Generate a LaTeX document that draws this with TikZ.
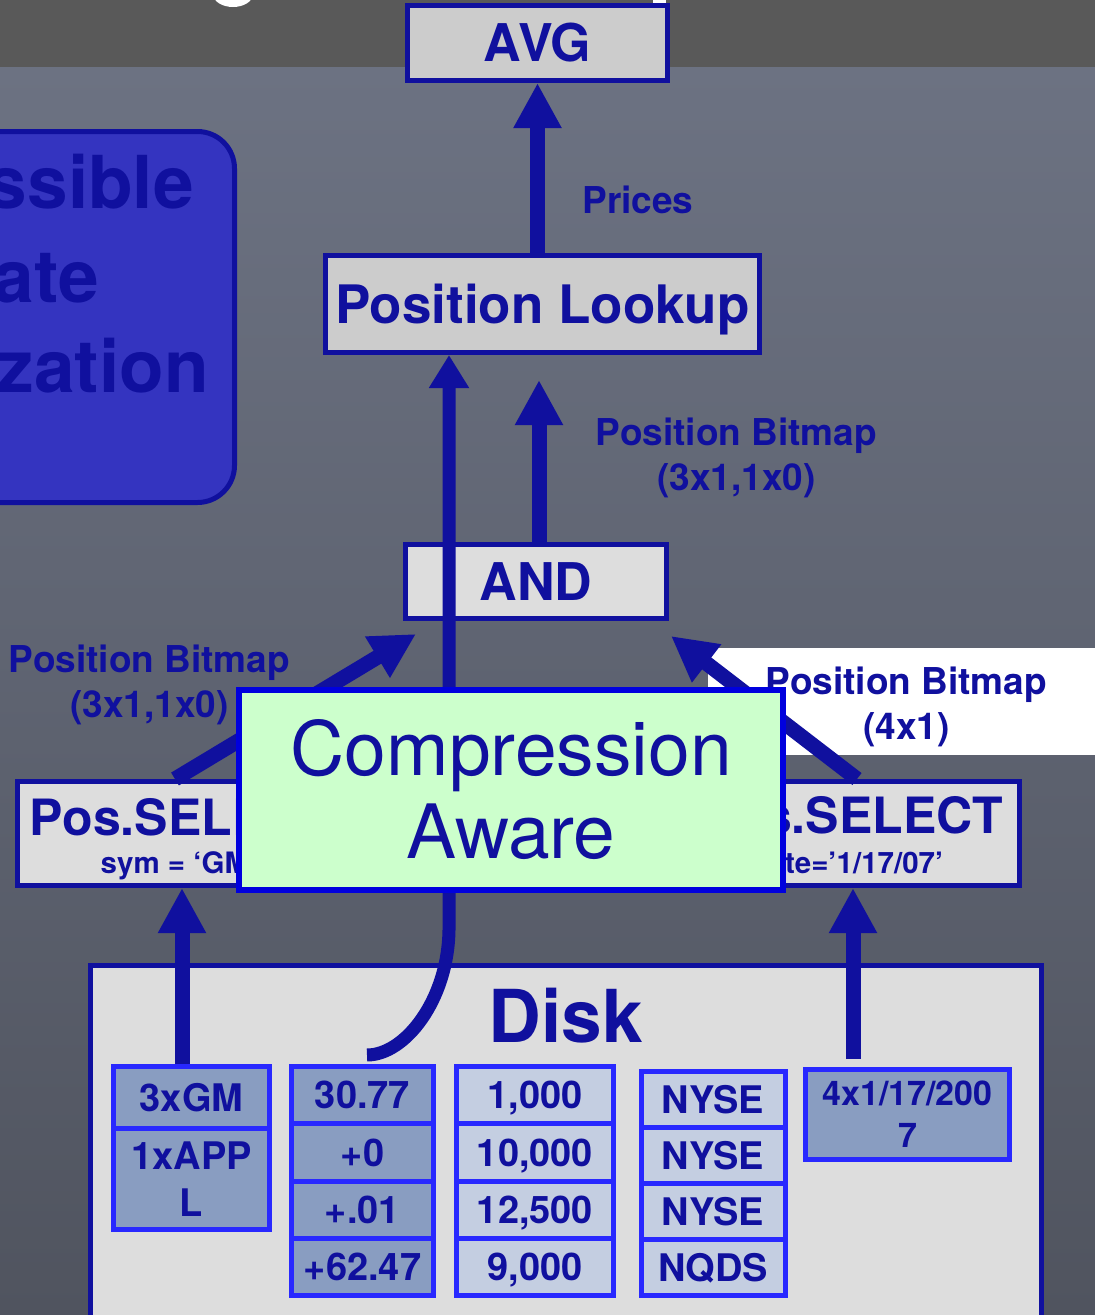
\documentclass[tikz,border=0pt]{standalone}
\usepackage{fontspec}
\setmainfont{TeX Gyre Heros}
\usetikzlibrary{arrows.meta,calc}

\definecolor{navy}{RGB}{16,16,158}
\definecolor{brightblue}{RGB}{40,40,255}
\definecolor{compblue}{RGB}{0,0,222}
\definecolor{band}{RGB}{89,89,89}
\definecolor{slate}{RGB}{108,114,130}
\definecolor{slatedark}{RGB}{80,84,95}
\definecolor{opgray}{RGB}{204,204,204}
\definecolor{lightgray}{RGB}{221,221,221}
\definecolor{cellmid}{RGB}{137,157,193}
\definecolor{celllight}{RGB}{196,206,225}
\definecolor{mint}{RGB}{204,255,204}
\definecolor{royal}{RGB}{52,52,192}

\begin{document}
\begin{tikzpicture}[x=1pt,y=-1pt,
  every node/.style={inner sep=0pt},
  opbox/.style={draw=navy,line width=5pt,fill=opgray,text=navy},
  selbox/.style={draw=navy,line width=5pt,fill=lightgray},
  cell/.style={draw=brightblue,line width=5pt,text=navy,align=center,text depth=0pt,
    font=\bfseries\fontsize{38}{47}\selectfont},
  darkcell/.style={cell,fill=cellmid},
  lightcell/.style={cell,fill=celllight},
  lbl/.style={text=navy,align=center,font=\bfseries\fontsize{37}{45}\selectfont},
  notetext/.style={text=navy,font=\bfseries\fontsize{73}{80}\selectfont},
  subtext/.style={text=navy,font=\bfseries\fontsize{29.5}{34}\selectfont},
  flow/.style={draw=navy,line width=15pt,-{Triangle[length=45pt,width=45pt]}},
  thinflow/.style={draw=navy,line width=13pt,-{Triangle[length=33pt,width=38pt]}},
]
\useasboundingbox (0,0) rectangle (1095,1315);
\begin{scope}
\clip (0,0) rectangle (1095,1315);

% backdrop: title band and slate board
\fill[band] (0,0) rectangle (1095,67);
\shade[top color=slate,bottom color=slatedark] (0,67) rectangle (1095,1315);
\fill[white] (233,-6) ellipse [x radius=20pt, y radius=13pt];
\fill[white] (653,0) rectangle (666,4);

% side note
\node[draw=navy,line width=5pt,fill=royal,rounded corners=37pt,
      minimum width=334.5pt,minimum height=371pt] (note) at (67.25,317) {};
\node[notetext,anchor=base east] (note1) at (194,208) {ssible};
\node[notetext,anchor=base east] (note2) at (99,302) {ate};
\node[notetext,anchor=base east] (note3) at (209,392) {zation};

% operators
\node[opbox,minimum width=260pt,minimum height=75pt,
      font=\bfseries\fontsize{52}{60}\selectfont] (avg) at (537.5,43) {AVG};
\node[opbox,minimum width=434pt,minimum height=97pt,text depth=0pt,
      font=\bfseries\fontsize{53}{60}\selectfont] (pl) at (542.5,304) {Position Lookup};
\node[opbox,fill=lightgray,minimum width=261pt,minimum height=74pt,
      font=\bfseries\fontsize{52}{60}\selectfont] (and) at (536,581.5) {AND};

% edge labels (anchored on the baseline of their second line)
\node[lbl,anchor=base] (prices) at (638,213) {Prices};
\node[lbl,anchor=base] (bmand) at (736.5,490) {Position Bitmap\\(3x1,1x0)};
\node[lbl,anchor=base] (bmleft) at (149.5,717) {Position Bitmap\\(3x1,1x0)};
\fill[white] (708,648) rectangle (1100,755);
\node[lbl,anchor=base] (bmright) at (906.5,739) {Position Bitmap\\(4x1)};

% disk with its columns
\node[selbox,minimum width=951pt,minimum height=380pt] (disk) at (566,1155) {};
\node[text=navy,font=\bfseries\fontsize{73}{80}\selectfont,anchor=base] (disklbl) at (566,1042) {Disk};

\node[darkcell,minimum width=156pt,minimum height=61.5pt] (c1a) at (191.5,1097.25) {3xGM};
\node[darkcell,minimum width=156pt,minimum height=101.5pt] (c1b) at (191.5,1178.75) {1xAPP\\L};

\node[darkcell,minimum width=142pt,minimum height=57.25pt] (c2a) at (362.5,1095.125) {30.77};
\node[darkcell,minimum width=142pt,minimum height=57.25pt] (c2b) at (362.5,1152.375) {+0};
\node[darkcell,minimum width=142pt,minimum height=57.25pt] (c2c) at (362.5,1209.625) {+.01};
\node[darkcell,minimum width=142pt,minimum height=57.25pt] (c2d) at (362.5,1266.875) {+62.47};

\node[lightcell,minimum width=157pt,minimum height=57.25pt] (c3a) at (535,1095.125) {1,000};
\node[lightcell,minimum width=157pt,minimum height=57.25pt] (c3b) at (535,1152.375) {10,000};
\node[lightcell,minimum width=157pt,minimum height=57.25pt] (c3c) at (535,1209.625) {12,500};
\node[lightcell,minimum width=157pt,minimum height=57.25pt] (c3d) at (535,1266.875) {9,000};

\node[lightcell,minimum width=144pt,minimum height=56pt] (c4a) at (713,1099.5) {NYSE};
\node[lightcell,minimum width=144pt,minimum height=56pt] (c4b) at (713,1155.5) {NYSE};
\node[lightcell,minimum width=144pt,minimum height=56pt] (c4c) at (713,1211.5) {NYSE};
\node[lightcell,minimum width=144pt,minimum height=56pt] (c4d) at (713,1267.5) {NQDS};

\node[darkcell,minimum width=204pt,minimum height=90pt,
      font=\bfseries\fontsize{34}{42}\selectfont] (c5a) at (907.5,1114.5) {4x1/17/200\\7};

% selections
\node[selbox,minimum width=327pt,minimum height=104pt] (lsel) at (181,833.5) {};
\node[text=navy,font=\bfseries\fontsize{50}{56}\selectfont,anchor=base] (lselt) at (181,835) {Pos.SELECT};
\node[subtext,anchor=base] (lselc) at (179,873) {sym = ‘GM’};

\node[selbox,minimum width=333pt,minimum height=104pt] (rsel) at (853,833.5) {};
\node[text=navy,font=\bfseries\fontsize{50}{56}\selectfont,anchor=base] (rselt) at (852,833) {Pos.SELECT};
\node[subtext,anchor=base] (rselc) at (847,873) {date=’1/17/07’};

% connectors
\coordinate (andtip) at (539,380);
\coordinate (cstart) at (367,1055);
\coordinate (bend) at (449,930);
\coordinate (ltip) at ($(and.south west)+(13,13)$);
\coordinate (rtip) at ($(and.south east)+(2,15)$);
\coordinate (rfoot) at (853,1059);

\draw[flow] (avg.south |- pl.north) -- (avg.south);
\draw[flow] (andtip |- and.north) -- (andtip);
\draw[thinflow] (cstart) .. controls +(38,0) and +(-1,70) .. (bend) -- (bend |- pl.south);
\draw[flow] ([xshift=-6pt]lsel.north) -- (ltip);
\draw[flow] ([xshift=4pt]rsel.north) -- (rtip);
\draw[flow] ([xshift=1pt]lsel.south |- c1a.north) -- ([xshift=1pt]lsel.south);
\draw[flow] (rfoot) -- (rfoot |- rsel.south);

% overlay
\node[draw=compblue,line width=6pt,fill=mint,minimum width=544pt,minimum height=200pt,
      text=navy,align=center,font=\fontsize{75}{83}\selectfont] (comp) at (511,790) {Compression\\Aware};
\end{scope}
\end{tikzpicture}
\end{document}
